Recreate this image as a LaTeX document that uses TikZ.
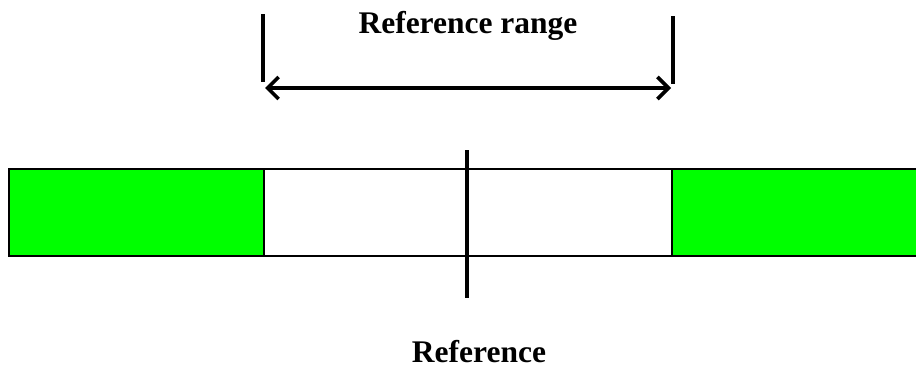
\documentclass[tikz,border=0pt]{standalone}
\usepackage{fontspec}
\setmainfont{Liberation Serif}
\usetikzlibrary{arrows.meta}
\definecolor{grn}{RGB}{0,255,0}
\tikzset{
  seg/.style={draw=black,line width=2.4pt},
  tick/.style={draw=black,line width=3.6pt},
  lbl/.style={font=\fontsize{31.5}{36}\selectfont\bfseries,inner sep=0pt},
}
\begin{document}
\begin{tikzpicture}[x=1pt,y=-1pt]
\useasboundingbox (0,0) rectangle (916,367);
\fill[white] (0,0) rectangle (916,367);
% bar segments
\path[seg,fill=grn] (9,169) rectangle (264,256);
\path[seg,fill=white] (264,169) rectangle (672,256);
\path[seg,fill=grn] (672,169) rectangle (919,256);
% center reference line
\coordinate (ct) at (467,150);
\coordinate (cb) at (467,298);
\draw[tick] (ct) -- (cb);
% range ticks
\coordinate (lt) at (263,14);
\coordinate (lb) at (263,82);
\coordinate (rt) at (673,16);
\coordinate (rb) at (673,84);
\draw[tick] (lt) -- (lb);
\draw[tick] (rt) -- (rb);
% arrow
\coordinate (al) at (265,88);
\coordinate (ar) at (671,88);
\draw[tick,{Straight Barb[length=11pt,width=22pt,line width=3.6pt]}-{Straight Barb[length=11pt,width=22pt,line width=3.6pt]}] (al) -- (ar);
% labels
\node[lbl,anchor=base] (rr) at (468,33) {Reference range};
\node[lbl,anchor=base] (ref) at (479,362) {Reference};
\end{tikzpicture}
\end{document}
